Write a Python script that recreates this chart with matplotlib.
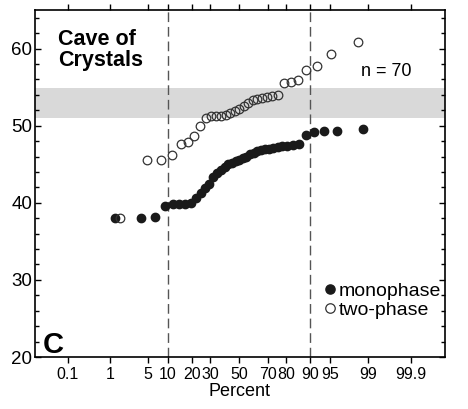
import numpy as np
import matplotlib
matplotlib.use("Agg")
import matplotlib.pyplot as plt
from matplotlib.ticker import FixedLocator, MultipleLocator
from statistics import NormalDist

plt.rcParams['font.family'] = ['Liberation Sans', 'DejaVu Sans']

# Homogenisation temperatures (sorted)
monophase = [38.0, 38.0, 38.1, 39.6, 39.8, 39.85, 39.9, 40.0, 40.6, 41.3,
             41.9, 42.5, 43.3, 43.9, 44.3, 44.7, 45.0, 45.2, 45.4, 45.6,
             45.8, 46.0, 46.3, 46.5, 46.7, 46.85, 46.95, 47.0, 47.1, 47.2,
             47.3, 47.4, 47.45, 47.6, 48.8, 49.15, 49.3, 49.3, 49.6]
two_phase = [38.0, 45.5, 45.5, 46.2, 47.6, 47.9, 48.6, 50.0, 51.0, 51.2,
             51.25, 51.3, 51.4, 51.7, 51.9, 52.15, 52.5, 52.9, 53.3, 53.5,
             53.65, 53.7, 53.8, 53.95, 55.5, 55.7, 55.9, 57.2, 57.7, 59.3,
             60.8]
band = (51.0, 54.9)
guide_pct = [10, 90]
xtick_pct = [0.1, 1, 5, 10, 20, 30, 50, 70, 80, 90, 95, 99, 99.9]
xtick_labels = ['0.1', '1', '5', '10', '20', '30', '50', '70', '80', '90', '95', '99', '99.9']


def plotting_pos(vals):
    n = len(vals)
    return (np.arange(1, n + 1) - 0.5) / n * 100


nd = NormalDist()
_ppf = np.vectorize(nd.inv_cdf, otypes=[float])
_cdf = np.vectorize(nd.cdf, otypes=[float])


def fwd(p):
    p = np.clip(np.asarray(p, dtype=float) / 100.0, 1e-12, 1 - 1e-12)
    return _ppf(p)


def inv(z):
    return _cdf(np.asarray(z, dtype=float)) * 100.0


fig = plt.figure(figsize=(4.68, 4.09), dpi=100)
ax = fig.add_axes([35 / 468, 1 - 357 / 409, 410 / 468, 347 / 409])
ax.set_xscale('function', functions=(fwd, inv))

ax.axhspan(*band, color='#d9d9d9', lw=0, zorder=0)
for g in guide_pct:
    ax.axvline(g, color='#555555', lw=1.0, dashes=(7, 3.5), zorder=1)

ax.plot(plotting_pos(monophase), monophase, 'o', ms=6.0, color='#1a1a1a',
        mec='#1a1a1a', label='monophase', zorder=3)
ax.plot(plotting_pos(two_phase), two_phase, 'o', ms=6.2, mfc='none',
        mec='#333333', mew=0.9, label='two-phase', zorder=4)

ax.set_xlim(inv(-3.68), inv(3.71))
ax.set_ylim(20, 65)

ax.xaxis.set_major_locator(FixedLocator(xtick_pct))
ax.xaxis.set_minor_locator(FixedLocator([]))
ax.set_xticklabels(xtick_labels)
ax.tick_params(axis='x', which='major', direction='out', top=True,
               length=4, width=1, labelsize=11.5, pad=3)
ax.yaxis.set_major_locator(MultipleLocator(10))
ax.yaxis.set_minor_locator(MultipleLocator(2))
ax.tick_params(axis='y', which='both', direction='in', right=True,
               width=1, labelsize=13.5, pad=2)
ax.tick_params(axis='y', which='major', length=4)
ax.tick_params(axis='y', which='minor', length=3)
for s in ax.spines.values():
    s.set_linewidth(1.2)

ax.set_xlabel('Percent', fontsize=13, labelpad=1)

ax.text(0.056, 0.945, 'Cave of\nCrystals', transform=ax.transAxes,
        fontsize=15.5, fontweight='bold', va='top', ha='left', linespacing=1.0)
ax.text(0.856, 0.824, 'n = 70', transform=ax.transAxes, fontsize=13,
        va='center', ha='center')
ax.text(0.018, 0.012, 'C', transform=ax.transAxes, fontsize=21,
        fontweight='bold', va='baseline', ha='left')

ax.legend(loc='upper right', bbox_to_anchor=(0.99, 0.215), frameon=False,
          fontsize=14, handlelength=0.5, handletextpad=0.2, labelspacing=0.05,
          borderpad=0, borderaxespad=0, markerscale=1.1)

fig.savefig('out.png', dpi=100)
